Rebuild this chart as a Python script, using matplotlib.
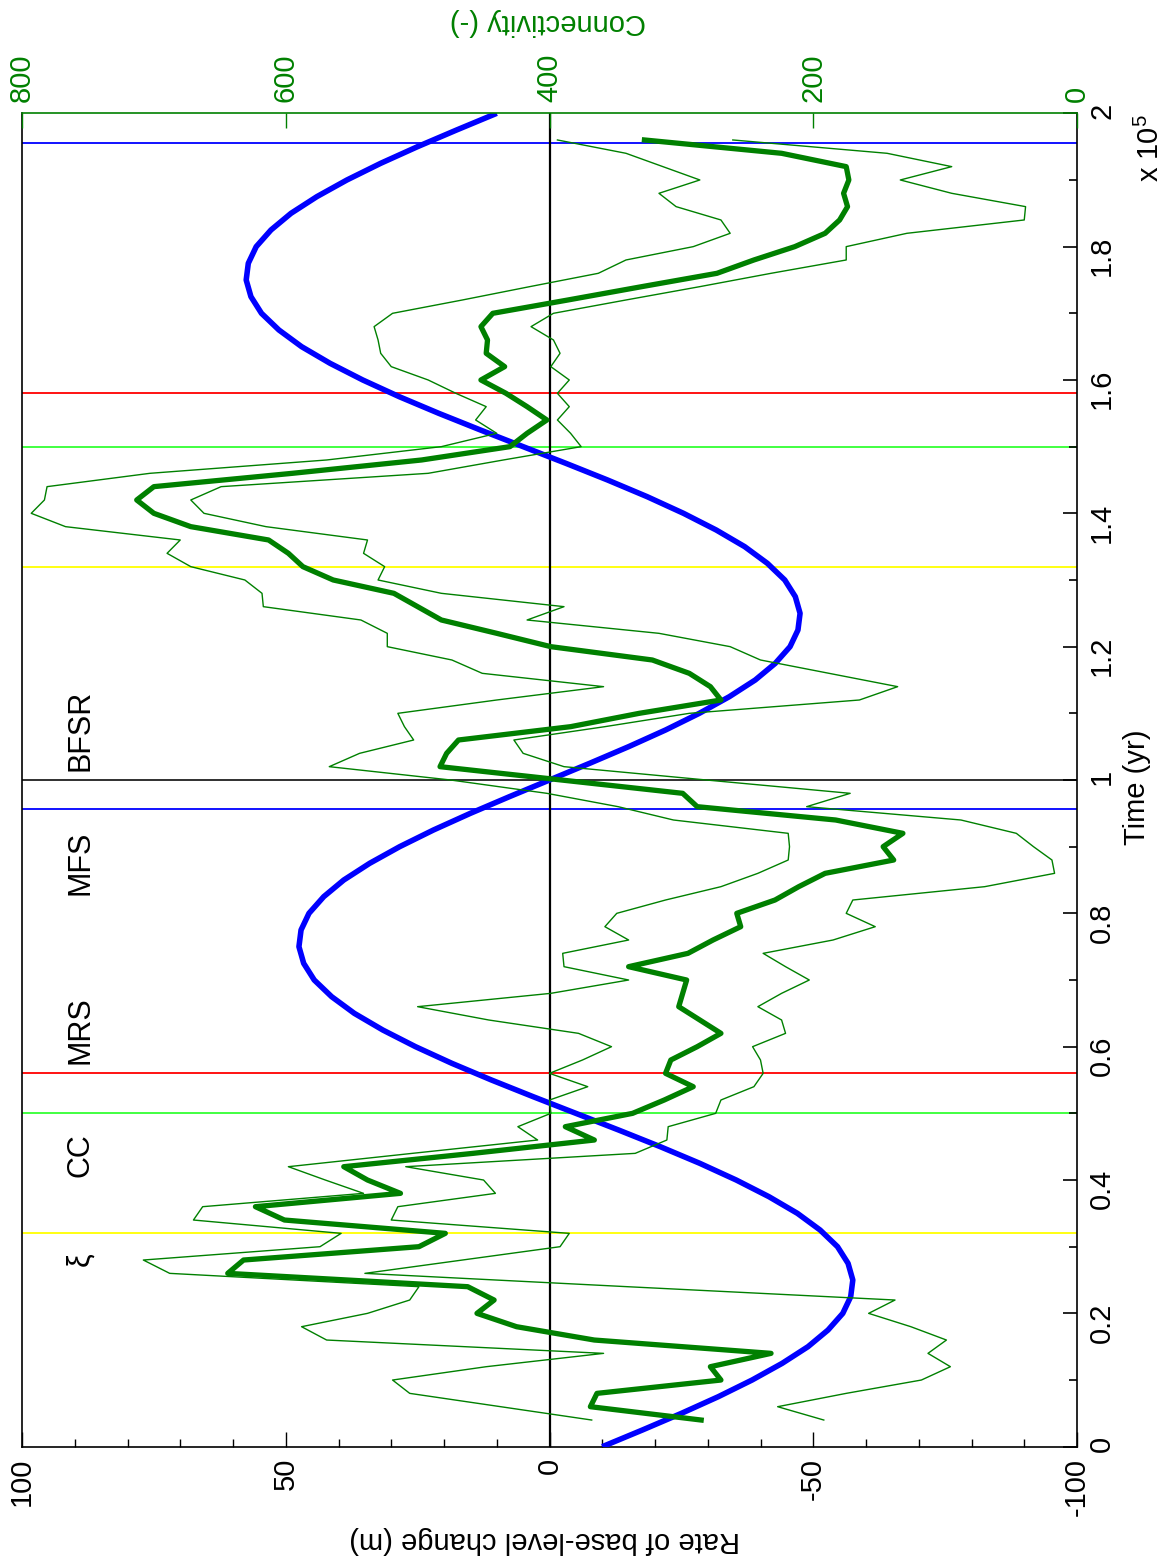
import numpy as np
import matplotlib
matplotlib.use('Agg')
import matplotlib.pyplot as plt
from matplotlib.ticker import MultipleLocator, FixedLocator

plt.rcParams['font.family'] = ['Liberation Sans', 'DejaVu Sans']
plt.rcParams['mathtext.default'] = 'regular'

# ---------------- data ----------------
# base-level change rate (m), sampled every 2500 yr from 0 to 2e5 yr
blue_rate = [-10.0, -17.6, -25.0, -32.0, -38.4, -44.1, -49.0, -52.8, -55.6, -57.1,
             -57.5, -56.6, -54.6, -51.3, -47.0, -41.6, -35.4, -28.5, -21.0, -13.1,
             -5.0, 3.1, 11.0, 18.5, 25.4, 31.6, 37.0, 41.3, 44.6, 46.6,
             47.5, 47.1, 45.6, 42.8, 39.0, 34.1, 28.4, 22.0, 15.0, 7.6,
             0.0, -7.6, -15.0, -22.0, -28.4, -34.1, -39.0, -42.8, -45.6, -47.1,
             -47.5, -46.6, -44.6, -41.3, -37.0, -31.6, -25.4, -18.5, -11.0, -3.1,
             5.0, 13.1, 21.0, 28.5, 35.4, 41.6, 47.0, 51.3, 54.6, 56.6,
             57.5, 57.1, 55.6, 52.8, 49.0, 44.1, 38.4, 32.0, 25.0, 17.6, 10.0]
blue_time = np.linspace(0, 2e5, len(blue_rate))

# connectivity, every 2000 yr from 4000 to 196000 yr
conn_time = np.arange(4000, 196001, 2000)
conn_mean = [285, 369, 364, 270, 278, 232, 366, 425, 455, 442,
             462, 644, 632, 499, 479, 601, 623, 513, 538, 556,
             458, 366, 388, 337, 313, 291, 312, 308, 288, 270,
             286, 302, 299, 296, 340, 295, 276, 255, 258, 229,
             211, 191, 139, 147, 132, 183, 288, 299, 391, 483,
             478, 469, 384, 332, 270, 278, 294, 322, 399, 440,
             482, 500, 518, 564, 587, 598, 613, 672, 700, 713,
             700, 595, 497, 430, 417, 402, 417, 433, 452, 434,
             448, 447, 452, 443, 386, 330, 273, 245, 214, 191,
             180, 174, 177, 173, 175, 224, 328]
conn_upper = [368, 437, 506, 519, 448, 359, 569, 588, 538, 506,
              499, 688, 708, 574, 558, 670, 663, 541, 570, 598,
              504, 409, 424, 399, 400, 371, 400, 375, 353, 378,
              446, 500, 399, 340, 389, 390, 340, 358, 349, 312,
              270, 242, 219, 218, 219, 306, 348, 402, 475, 567,
              544, 503, 510, 515, 440, 359, 451, 474, 523, 523,
              543, 617, 618, 631, 672, 690, 680, 767, 793, 783,
              781, 703, 569, 482, 440, 456, 448, 471, 492, 520,
              528, 530, 533, 519, 466, 415, 363, 342, 291, 263,
              270, 304, 317, 286, 314, 342, 394]
conn_lower = [192, 227, 175, 118, 96, 113, 99, 126, 158, 138,
              341, 540, 466, 392, 385, 520, 515, 441, 450, 509,
              335, 311, 310, 274, 270, 245, 238, 240, 246, 221,
              224, 242, 224, 203, 221, 238, 185, 153, 175, 170,
              70, 17, 19, 33, 46, 88, 205, 172, 281, 389,
              420, 427, 358, 294, 165, 136, 188, 240, 263, 317,
              417, 389, 482, 530, 525, 541, 538, 615, 662, 672,
              649, 492, 435, 376, 384, 394, 385, 394, 385, 399,
              392, 397, 414, 397, 342, 286, 232, 175, 175, 129,
              40, 39, 95, 134, 95, 144, 261]

event_times = [32000, 50000, 56000, 95600, 100000, 132000, 150000, 158000, 195600]
event_colors = ['#ffff00', '#33ff33', '#ff0000', '#0000ff', '#202020',
                '#ffff00', '#33ff33', '#ff0000', '#0000ff']

stage_labels = ['ξ', 'CC', 'MRS', 'MFS', 'BFSR']
stage_times = [28100, 43700, 62500, 87600, 107400]

rate_ticks = [100, 50, 0, -50, -100]
rate_tick_labels = ['100', '50', '0', '-50', '-100']
time_ticks = [0, 20000, 40000, 60000, 80000, 100000, 120000, 140000, 160000, 180000, 200000]
time_tick_labels = ['0', '0.2', '0.4', '0.6', '0.8', '1', '1.2', '1.4', '1.6', '1.8', '2']
conn_ticks = [800, 600, 400, 200, 0]
conn_tick_labels = ['800', '600', '400', '200', '0']

# ---------------- figure ----------------
W, H = 1163, 1566
fig = plt.figure(figsize=(W / 100, H / 100), dpi=100)
ax = fig.add_axes([22 / W, 1 - 1446.7 / H, (1077 - 22) / W, (1446.7 - 113.3) / H])
ax.set_xlim(100, -100)
ax.set_ylim(0, 2e5)

for t, c in zip(event_times, event_colors):
    ax.axhline(t, color=c, lw=1.3, zorder=1)
ax.axvline(0, color='black', lw=1.6, zorder=2)
ax.plot(blue_rate, blue_time, color='#0000ff', lw=4.0, zorder=3, solid_capstyle='butt')

for lab, t in zip(stage_labels, stage_times):
    ax.text(89, t, lab, rotation=90, ha='center', va='center', fontsize=22, color='black')

# rate axis (bottom)
ax.xaxis.set_major_locator(FixedLocator(rate_ticks))
ax.set_xticklabels(rate_tick_labels)
ax.xaxis.set_minor_locator(MultipleLocator(10))
ax.tick_params(axis='x', which='both', bottom=True, top=False, direction='in',
               labelrotation=90, labelsize=21, pad=8)
ax.tick_params(axis='x', which='major', length=11, width=1.0)
ax.tick_params(axis='x', which='minor', length=6, width=1.0)

# time axis (right)
ax.yaxis.tick_right()
ax.yaxis.set_major_locator(FixedLocator(time_ticks))
ax.set_yticklabels(time_tick_labels)
ax.yaxis.set_minor_locator(MultipleLocator(10000))
ax.tick_params(axis='y', which='both', left=False, right=True, direction='in',
               labelrotation=90, labelsize=21, pad=8)
ax.tick_params(axis='y', which='major', length=10, width=1.2)
ax.tick_params(axis='y', which='minor', length=6, width=1.2)

ax.spines['top'].set_visible(False)
for s in ['left', 'right', 'bottom']:
    ax.spines[s].set_linewidth(1.2)

# connectivity axis (top)
ax2 = ax.twiny()
ax2.set_xlim(800, 0)
ax2.plot(conn_upper, conn_time, color='#008000', lw=1.0, zorder=4)
ax2.plot(conn_lower, conn_time, color='#008000', lw=1.0, zorder=4)
ax2.plot(conn_mean, conn_time, color='#008000', lw=3.8, zorder=5)
ax2.xaxis.set_major_locator(FixedLocator(conn_ticks))
ax2.set_xticklabels(conn_tick_labels)
ax2.tick_params(axis='x', which='both', top=True, bottom=False, direction='in',
                labelrotation=90, labelsize=21, pad=8, colors='#008000', length=11, width=1.0)
for s in ['left', 'right', 'bottom']:
    ax2.spines[s].set_visible(False)
ax2.spines['top'].set_color('#008000')
ax2.spines['top'].set_linewidth(1.2)

# axis labels
fig.text(545 / W, 1 - 1540 / H, 'Rate of base-level change (m)', rotation=180,
         ha='center', va='center', fontsize=21)
fig.text(548 / W, 1 - 22 / H, 'Connectivity (-)', rotation=180, color='#008000',
         ha='center', va='center', fontsize=21)
fig.text(1137 / W, 1 - 787 / H, 'Time (yr)', rotation=90,
         ha='center', va='center', fontsize=21)
fig.text(1150 / W, 1 - 148 / H, r'x 10$^{5}$', rotation=90,
         ha='center', va='center', fontsize=21)

fig.savefig('out.png', dpi=100)
